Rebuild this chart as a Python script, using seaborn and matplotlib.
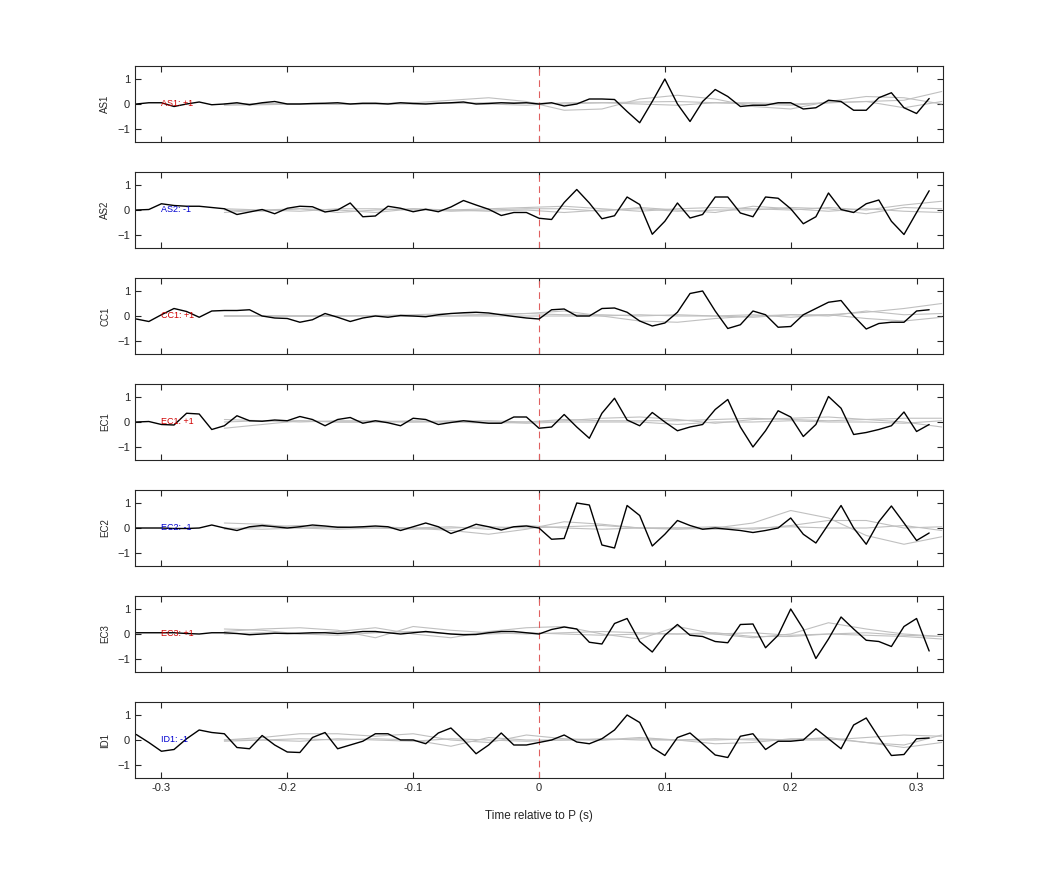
import numpy as np
import matplotlib
matplotlib.use("Agg")
import matplotlib.pyplot as plt
import seaborn as sns

stations = ["AS1", "AS2", "CC1", "EC1", "EC2", "EC3", "ID1"]
polarity = ["+1", "-1", "+1", "+1", "-1", "+1", "-1"]

t = np.round(np.arange(-0.32, 0.315, 0.01), 2)
tg = np.round(np.arange(-0.25, 0.321, 0.03), 2)

AS1 = [0, 0.05, 0.05, -0.1, 0, 0.08, -0.03, 0, 0.05, -0.03, 0.05, 0.1, 0, 0, 0.02, 0.03,
       0.05, 0, 0.03, 0.03, 0, 0.05, 0.02, 0, 0.03, 0.05, 0.08, 0, 0.02, 0.05, 0.03, 0.05,
       0, 0.05, -0.08, 0, 0.2, 0.2, 0.18, -0.3, -0.75, 0.1, 1.0, 0.0, -0.7, 0.1, 0.58, 0.3,
       -0.1, -0.05, -0.05, 0.05, 0.05, -0.2, -0.15, 0.15, 0.1, -0.25, -0.25, 0.25, 0.45, -0.15,
       -0.38, 0.22]
AS2 = [0.0, 0.02, 0.25, 0.18, 0.15, 0.15, 0.1, 0.05, -0.18, -0.08, 0.02, -0.15, 0.07, 0.15,
       0.13, -0.08, 0.0, 0.28, -0.27, -0.24, 0.15, 0.07, -0.07, 0.03, -0.07, 0.12, 0.38, 0.2,
       0.03, -0.22, -0.1, -0.1, -0.33, -0.38, 0.3, 0.82, 0.28, -0.35, -0.23, 0.52, 0.22, -0.97,
       -0.45, 0.28, -0.32, -0.18, 0.52, 0.52, -0.12, -0.27, 0.52, 0.47, 0.05, -0.55, -0.27,
       0.68, 0.02, -0.1, 0.25, 0.4, -0.45, -0.98, -0.1, 0.77]
CC1 = [-0.12, -0.22, 0.05, 0.3, 0.18, -0.05, 0.2, 0.22, 0.22, 0.25, 0.0, -0.08, -0.1, -0.25,
       -0.15, 0.1, -0.05, -0.22, -0.08, 0.0, -0.05, 0.02, 0.0, -0.03, 0.05, 0.1, 0.13, 0.15,
       0.12, 0.05, -0.02, -0.08, -0.12, 0.25, 0.28, 0.0, 0.0, 0.3, 0.32, 0.15, -0.2, -0.4,
       -0.28, 0.15, 0.9, 1.0, 0.2, -0.5, -0.35, 0.2, 0.05, -0.45, -0.42, 0.05, 0.3, 0.55, 0.62,
       0.0, -0.52, -0.3, -0.25, -0.25, 0.2, 0.25]
EC1 = [0, 0.02, -0.1, -0.12, 0.35, 0.32, -0.3, -0.15, 0.25, 0.05, 0.03, 0.08, 0.05, 0.22,
       0.1, -0.15, 0.1, 0.18, -0.05, 0.05, -0.03, -0.15, 0.15, 0.1, -0.1, -0.02, 0.05, 0.0,
       -0.05, -0.05, 0.2, 0.2, -0.25, -0.2, 0.3, -0.2, -0.65, 0.35, 0.95, 0.08, -0.15, 0.38,
       0.0, -0.35, -0.2, -0.1, 0.5, 0.9, -0.2, -1.0, -0.35, 0.45, 0.2, -0.58, -0.1, 1.02, 0.55,
       -0.5, -0.42, -0.3, -0.15, 0.4, -0.38, -0.1]
EC2 = [0, 0, 0, -0.02, -0.02, 0.0, 0.12, 0.0, -0.1, 0.05, 0.1, 0.05, 0.0, 0.05, 0.12, 0.08,
       0.03, 0.03, 0.05, 0.08, 0.05, -0.1, 0.05, 0.2, 0.05, -0.22, -0.05, 0.15, 0.05, -0.08,
       0.05, 0.08, 0.0, -0.45, -0.42, 1.0, 0.92, -0.68, -0.8, 0.9, 0.5, -0.72, -0.25, 0.3, 0.1,
       -0.05, 0.0, -0.05, -0.1, -0.18, -0.1, 0.0, 0.4, -0.25, -0.6, 0.15, 0.9, 0.0, -0.65, 0.25,
       0.88, 0.2, -0.5, -0.2]
EC3 = [0.05, 0.05, 0.05, 0.05, 0.02, 0.0, 0.05, 0.05, 0.02, -0.03, 0.0, 0.03, 0.02, 0.03,
       0.05, 0.05, 0.02, 0.05, 0.1, 0.1, 0.05, 0.0, 0.05, 0.1, 0.05, 0.0, -0.03, -0.02, 0.05,
       0.1, 0.1, 0.05, 0.0, 0.18, 0.28, 0.2, -0.33, -0.4, 0.42, 0.62, -0.3, -0.72, -0.05, 0.38,
       -0.05, -0.1, -0.3, -0.35, 0.38, 0.4, -0.55, -0.05, 1.0, 0.2, -0.98, -0.2, 0.68, 0.2,
       -0.25, -0.3, -0.5, 0.3, 0.62, -0.68]
ID1 = [0.22, -0.1, -0.45, -0.38, 0.05, 0.4, 0.3, 0.25, -0.3, -0.35, 0.18, -0.2, -0.48, -0.5,
       0.1, 0.3, -0.35, -0.2, -0.05, 0.25, 0.25, 0.0, 0.0, -0.15, 0.28, 0.48, 0.0, -0.55, -0.2,
       0.28, -0.2, -0.2, -0.1, 0.0, 0.2, -0.08, -0.15, 0.05, 0.4, 1.0, 0.7, -0.3, -0.62, 0.1,
       0.28, -0.15, -0.6, -0.7, 0.15, 0.25, -0.38, -0.05, -0.05, 0.0, 0.45, 0.05, -0.35, 0.6,
       0.88, 0.1, -0.62, -0.58, 0.05, 0.08]
black = [AS1, AS2, CC1, EC1, EC2, EC3, ID1]

# grey synthetic traces (sampled at tg)
grey = {
    "AS1": [[0, 0, 0, 0, 0.02, 0.05, 0.15, 0.25, 0.1, -0.25, -0.2, 0.2, 0.35, 0.2, -0.1, -0.2, 0.1, 0.3, 0.25, 0.0],
            [0, 0.02, 0, -0.02, 0, 0.02, 0.05, 0, -0.05, 0.05, 0.05, 0, -0.05, 0.05, 0.05, 0, 0.05, 0.1, 0.15, 0.5],
            [-0.05, -0.03, 0, 0.02, 0, 0, 0.03, 0.05, 0.05, 0.0, 0.05, 0.08, 0.1, 0.05, 0.0, -0.05, 0.05, 0.1, -0.15, 0.1]],
    "AS2": [[0, -0.05, 0.05, 0.0, -0.1, 0.05, 0.0, 0.05, 0.1, 0.15, 0.05, -0.05, 0.05, 0.1, 0.05, 0.0, 0.1, 0.0, 0.2, 0.35],
            [-0.1, 0.0, 0.05, -0.1, 0.0, 0.05, -0.05, 0.0, 0.05, 0.05, -0.05, 0.1, 0.0, -0.1, 0.15, 0.05, -0.05, 0.05, -0.05, -0.1],
            [0.05, 0.0, -0.05, 0.05, 0.05, 0.0, 0.0, -0.05, 0.0, -0.1, 0.0, 0.05, -0.05, 0.0, 0.0, 0.1, 0.05, -0.15, 0.1, 0.05]],
    "CC1": [[0, 0, 0, 0, 0.02, 0.05, 0.1, 0.05, 0.1, 0.2, 0.0, -0.2, -0.25, -0.1, 0.0, 0.05, 0.0, 0.2, 0.05, 0.1],
            [0, 0, 0, 0, 0.02, 0.0, 0.0, 0.05, 0.1, 0.05, 0.05, 0.0, 0.05, 0.0, -0.05, 0.05, 0.05, 0.15, 0.3, 0.5],
            [0, 0, 0, 0, 0.0, 0.0, 0.0, 0.0, 0.0, 0.0, 0.0, 0.05, 0.0, 0.0, 0.05, -0.05, 0.05, -0.1, -0.2, -0.05]],
    "EC1": [[-0.25, -0.1, 0.05, 0.0, 0.0, 0.0, 0.05, 0.05, 0.0, 0.05, 0.15, 0.2, 0.1, -0.05, 0.1, 0.15, 0.2, 0.1, 0.0, -0.2],
            [0.1, 0.05, 0.0, 0.05, 0.05, 0.0, 0.0, -0.05, 0.0, 0.1, 0.05, 0.05, 0.05, 0.1, 0.15, 0.1, 0.05, 0.1, 0.15, 0.15],
            [0.0, 0.05, 0.05, 0.0, 0.0, 0.05, 0.0, 0.0, -0.05, 0.0, 0.0, 0.0, -0.1, 0.0, 0.0, 0.05, 0.0, 0.0, -0.05, 0.05]],
    "EC2": [[0.2, 0.15, 0.0, -0.05, 0.0, 0.0, -0.1, -0.25, -0.05, 0.25, 0.15, 0.0, -0.05, 0.0, 0.2, 0.7, 0.4, -0.3, -0.65, -0.35],
            [-0.05, 0.05, 0.1, 0.0, 0.05, 0.0, 0.05, -0.05, 0.1, 0.0, -0.05, 0.0, 0.0, 0.05, -0.05, 0.1, 0.3, 0.3, 0.0, 0.05],
            [0.0, -0.05, 0.0, 0.05, 0.0, -0.05, 0.0, 0.05, 0.0, 0.05, 0.1, 0.0, 0.0, -0.05, 0.0, 0.05, 0.0, 0.0, 0.1, -0.1]],
    "EC3": [[0.2, 0.15, 0.0, 0.1, 0.25, 0.0, -0.15, 0.1, 0.25, 0.3, 0.0, -0.2, 0.3, 0.0, -0.15, 0.0, 0.45, 0.2, 0.0, -0.1],
            [0.1, 0.2, 0.25, 0.15, -0.15, 0.3, 0.15, 0.05, 0.0, 0.05, 0.1, 0.05, 0.0, 0.05, -0.1, -0.1, 0.0, 0.05, -0.05, -0.1],
            [0.0, 0.05, 0.0, -0.05, 0.05, 0.1, 0.0, 0.0, 0.05, 0.0, -0.05, 0.0, 0.0, 0.0, 0.05, -0.05, 0.0, -0.05, -0.1, -0.2]],
    "ID1": [[0.0, 0.1, 0.25, 0.25, 0.15, 0.25, 0.0, -0.1, 0.2, 0.05, 0.0, 0.1, 0.0, -0.15, -0.1, 0.05, 0.05, -0.1, -0.2, 0.2],
            [0.0, 0.0, 0.05, 0.0, 0.05, 0.0, -0.25, 0.1, 0.0, 0.0, 0.05, 0.0, 0.0, 0.05, 0.0, 0.0, 0.1, -0.1, -0.3, -0.1],
            [-0.05, 0.0, -0.05, 0.05, 0.0, -0.05, 0.05, 0.0, -0.05, 0.0, 0.0, 0.05, 0.0, 0.0, 0.05, 0.0, 0.0, 0.1, 0.2, 0.15]],
}

sns.set_style("ticks")
plt.rcParams["font.family"] = ["Liberation Sans", "DejaVu Sans"]

fig = plt.figure(figsize=(10.42, 8.75), dpi=100)
W, H = 1042.0, 875.0
tops = [66, 172, 278, 384, 490, 596, 702]
for i, st in enumerate(stations):
    top = tops[i]
    ax = fig.add_axes([135 / W, 1 - (top + 76) / H, 808 / W, 76 / H])
    for g in grey[st]:
        sns.lineplot(x=tg, y=g, ax=ax, color="#c0c0c0", linewidth=0.8, estimator=None)
    ax.axvline(0, color="#e06060", linestyle=(0, (6, 4)), linewidth=0.8)
    sns.lineplot(x=t, y=black[i], ax=ax, color="black", linewidth=1.0, estimator=None)
    col = "#d00000" if polarity[i] == "+1" else "#0000d0"
    ax.text(-0.30, 0, f"{st}: {polarity[i]}", color=col, fontsize=6.5, va="center", ha="left")
    ax.set_xlim(-0.321, 0.321)
    ax.set_ylim(-1.52, 1.52)
    ax.set_yticks([-1, 0, 1])
    ax.set_xticks([-0.3, -0.2, -0.1, 0, 0.1, 0.2, 0.3])
    ax.tick_params(direction="in", top=True, right=True, labelsize=8, length=4, width=0.8)
    ax.set_ylabel(st, fontsize=7, labelpad=5)
    for s in ax.spines.values():
        s.set_linewidth(0.8)
    if i < len(stations) - 1:
        ax.set_xticklabels([])
    else:
        ax.set_xticklabels(["-0.3", "-0.2", "-0.1", "0", "0.1", "0.2", "0.3"])
        ax.set_xlabel("Time relative to P (s)", fontsize=8.5, labelpad=12)

fig.savefig("out.png", dpi=100)
